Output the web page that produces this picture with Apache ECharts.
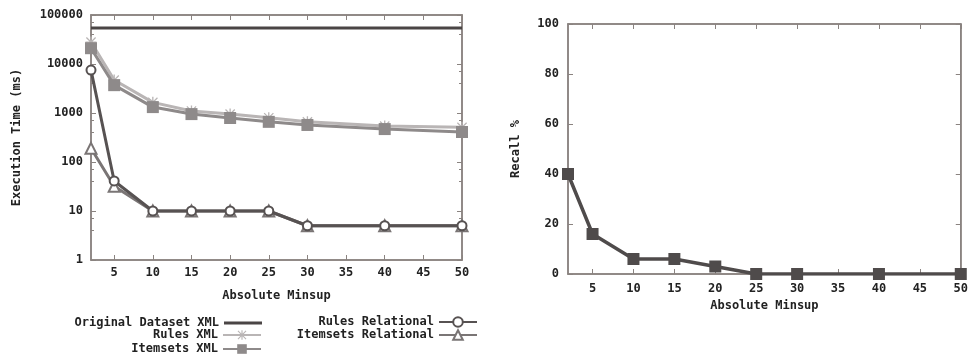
<!DOCTYPE html>
<html><head><meta charset="utf-8">
<script src="https://cdn.jsdelivr.net/npm/echarts@6/dist/echarts.min.js"></script>
<style>html,body{margin:0;padding:0;background:#fff}#c{width:971px;height:360px}</style>
</head><body><div id="c"></div>
<script>
const minsup = [2, 5, 10, 15, 20, 25, 30, 40, 50];
const xTicks = [5, 10, 15, 20, 25, 30, 35, 40, 45, 50];
const originalXml = [54000, 54000, 54000, 54000, 54000, 54000, 54000, 54000, 54000];
const rulesXml = [28000, 4700, 1650, 1100, 950, 800, 660, 540, 510];
const itemsetsXml = [21000, 3700, 1320, 950, 790, 660, 570, 470, 410];
const rulesRel = [7500, 41, 10, 10, 10, 10, 5, 5, 5];
const itemsetsRel = [190, 32, 10, 10, 10, 10, 5, 5, 5];
const recall = [40, 16, 6, 6, 3, 0, 0, 0, 0];
const names = ['Original Dataset XML', 'Rules XML', 'Itemsets XML', 'Rules Relational', 'Itemsets Relational'];

const FONT = 'DejaVu Sans Mono';
const txt = {fontFamily: FONT, fontWeight: 'bold', fontSize: 12, color: '#222'};
const BORDER = '#8a8380';
const pairs = a => minsup.map((x, i) => [x, a[i]]);
const star = 'path://M4.4,0h1.2v10h-1.2z M0,4.4h10v1.2h-10z M1.2,0.4l8.4,8.4 -0.8,0.8 -8.4,-8.4z M0.4,8.8l8.4,-8.4 0.8,0.8 -8.4,8.4z';

function xAx(grid, pos, labels, margin, name, gap) {
  return {type: 'value', gridIndex: grid, position: pos, min: 2, max: 50,
    axisLine: {show: true, onZero: false, lineStyle: {color: BORDER, width: 1.5}},
    axisTick: {show: true, inside: true, length: 5, customValues: xTicks, lineStyle: {color: BORDER}},
    axisLabel: {show: labels, customValues: xTicks, margin: margin, ...txt},
    splitLine: {show: false},
    name: name, nameLocation: 'middle', nameGap: gap, nameTextStyle: txt};
}
const chart = echarts.init(document.getElementById('c'));
const legendItem = (item, right, top, h) => ({
  data: [item], right: right, top: top, align: 'right', orient: 'vertical', padding: 0,
  itemWidth: 38, itemHeight: h || 12, itemGap: 0, textStyle: {...txt, lineHeight: 12}
});
chart.setOption({
  backgroundColor: '#fff',
  animation: false,
  grid: [
    {left: 91, right: 509, top: 15, bottom: 100, show: true, borderColor: BORDER, borderWidth: 1.5},
    {left: 568, right: 5, top: 24, bottom: 86, show: true, borderColor: BORDER, borderWidth: 1.5}
  ],
  legend: [
    legendItem({name: names[0], icon: 'rect'}, 709, 317, 3),
    legendItem(names[1], 709, 329),
    legendItem(names[2], 709, 343),
    legendItem(names[3], 493, 316),
    legendItem(names[4], 493, 329)
  ],
  xAxis: [
    xAx(0, 'bottom', true, 7, 'Absolute Minsup', 30),
    xAx(0, 'top', false, 7, '', 0),
    xAx(1, 'bottom', true, 9, 'Absolute Minsup', 20),
    xAx(1, 'top', false, 9, '', 0)
  ],
  yAxis: [
    {type: 'log', logBase: 10, gridIndex: 0, position: 'left', min: 1, max: 100000,
      axisLine: {show: true, lineStyle: {color: BORDER, width: 1.5}},
      axisTick: {show: true, inside: true, length: 5, lineStyle: {color: BORDER}},
      minorTick: {show: true, splitNumber: 3, length: 3, lineStyle: {color: BORDER}},
      axisLabel: {margin: 8, ...txt, formatter: v => String(Math.round(v))}, splitLine: {show: false},
      name: 'Execution Time (ms)', nameLocation: 'middle', nameGap: 68, nameTextStyle: txt},
    {type: 'log', logBase: 10, gridIndex: 0, position: 'right', min: 1, max: 100000,
      axisLine: {show: true, lineStyle: {color: BORDER, width: 1.5}},
      axisTick: {show: true, inside: true, length: 5, lineStyle: {color: BORDER}},
      minorTick: {show: true, splitNumber: 3, length: 3, lineStyle: {color: BORDER}},
      axisLabel: {show: false}, splitLine: {show: false}},
    {type: 'value', gridIndex: 1, position: 'left', min: 0, max: 100, interval: 20,
      axisLine: {show: true, lineStyle: {color: BORDER, width: 1.5}},
      axisTick: {show: true, inside: true, length: 5, lineStyle: {color: BORDER}},
      axisLabel: {margin: 9, ...txt}, splitLine: {show: false},
      name: 'Recall %', nameLocation: 'middle', nameGap: 46, nameTextStyle: txt},
    {type: 'value', gridIndex: 1, position: 'right', min: 0, max: 100, interval: 20,
      axisLine: {show: true, lineStyle: {color: BORDER, width: 1.5}},
      axisTick: {show: true, inside: true, length: 5, lineStyle: {color: BORDER}},
      axisLabel: {show: false}, splitLine: {show: false}}
  ],
  series: [
    {name: names[0], type: 'line', xAxisIndex: 0, yAxisIndex: 0, data: pairs(originalXml),
      symbol: 'none', lineStyle: {color: '#4a4545', width: 3}, itemStyle: {color: '#4a4545'}, z: 2},
    {name: names[1], type: 'line', xAxisIndex: 0, yAxisIndex: 0, data: pairs(rulesXml),
      symbol: star, symbolSize: 11, lineStyle: {color: '#b9b5b5', width: 3}, itemStyle: {color: '#b9b5b5'}, z: 3},
    {name: names[2], type: 'line', xAxisIndex: 0, yAxisIndex: 0, data: pairs(itemsetsXml),
      symbol: 'rect', symbolSize: 12, lineStyle: {color: '#8e8a8a', width: 3}, itemStyle: {color: '#8e8a8a'}, z: 4},
    {name: names[3], type: 'line', xAxisIndex: 0, yAxisIndex: 0, data: pairs(rulesRel),
      symbol: 'emptyCircle', symbolSize: 9, lineStyle: {color: '#575252', width: 3},
      itemStyle: {color: '#575252', borderWidth: 1.5}, z: 5},
    {name: names[4], type: 'line', xAxisIndex: 0, yAxisIndex: 0, data: pairs(itemsetsRel),
      symbol: 'emptyTriangle', symbolSize: 11, lineStyle: {color: '#7a7575', width: 3},
      itemStyle: {color: '#7a7575', borderWidth: 1.5}, z: 4},
    {name: 'Recall', type: 'line', xAxisIndex: 2, yAxisIndex: 2, data: pairs(recall),
      symbol: 'rect', symbolSize: 12, lineStyle: {color: '#4f4b4b', width: 3.5}, itemStyle: {color: '#4f4b4b'}, z: 4}
  ]
});
</script></body></html>
